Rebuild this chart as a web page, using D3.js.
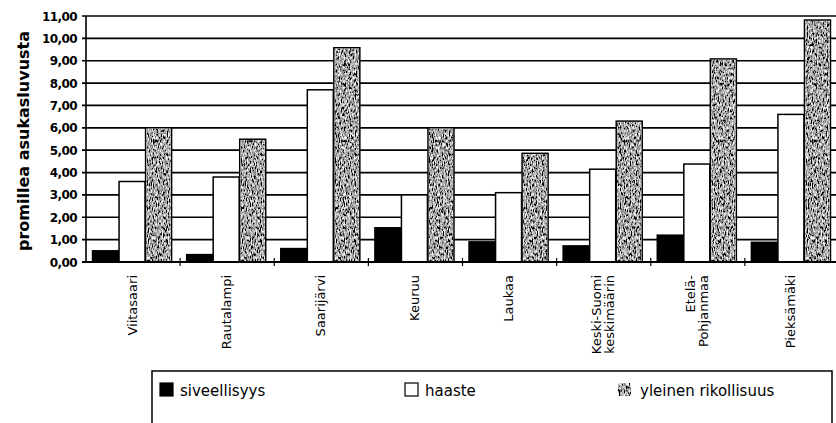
<!DOCTYPE html>
<html>
<head>
<meta charset="utf-8">
<script src="https://cdn.jsdelivr.net/npm/d3@7"></script>
<style>
  body { margin: 0; background: #fff; }
  svg { display: block; }
</style>
</head>
<body>
<div class="chart"></div>
<script>
// data
const categories = ["Viitasaari", "Rautalampi", "Saarijärvi", "Keuruu", "Laukaa",
                    "Keski-Suomi keskimäärin", "Etelä- Pohjanmaa", "Pieksämäki"];
const labelLines = [["Viitasaari"], ["Rautalampi"], ["Saarijärvi"], ["Keuruu"], ["Laukaa"],
                    ["Keski-Suomi", "keskimäärin"], ["Etelä-", "Pohjanmaa"], ["Pieksämäki"]];
const seriesNames = ["siveellisyys", "haaste", "yleinen rikollisuus"];
const siveellisyys = [0.50, 0.33, 0.60, 1.53, 0.90, 0.72, 1.20, 0.88];
const haaste       = [3.60, 3.80, 7.70, 3.00, 3.10, 4.15, 4.38, 6.60];
const yleinen      = [6.00, 5.49, 9.58, 6.00, 4.86, 6.30, 9.08, 10.82];
const yTicks = [0, 1, 2, 3, 4, 5, 6, 7, 8, 9, 10, 11];

const seriesValues = [siveellisyys, haaste, yleinen];
const rows = categories.map((c, i) => ({
    cat: c,
    vals: seriesNames.map((s, j) => ({ key: s, value: seriesValues[j][i] }))
}));

const svg = d3.select(".chart")
    .append("svg")
    .attr("width", 836)
    .attr("height", 423);

// grainy grey fill for the third series
const defs = svg.append("defs");
const grain = defs.append("filter")
    .attr("id", "grain")
    .attr("x", 0).attr("y", 0).attr("width", 1).attr("height", 1)
    .attr("filterUnits", "objectBoundingBox");
grain.append("feTurbulence")
    .attr("type", "fractalNoise")
    .attr("baseFrequency", "0.8 0.3")
    .attr("numOctaves", 3)
    .attr("seed", 7)
    .attr("result", "noise");
grain.append("feColorMatrix")
    .attr("in", "noise")
    .attr("type", "matrix")
    .attr("values", "0.33 0.33 0.33 0 0  0.33 0.33 0.33 0 0  0.33 0.33 0.33 0 0  0 0 0 0 1")
    .attr("result", "gray");
const ct = grain.append("feComponentTransfer").attr("in", "gray").attr("result", "contrast");
["feFuncR", "feFuncG", "feFuncB"].forEach(f =>
    ct.append(f).attr("type", "linear").attr("slope", 4.5).attr("intercept", -1.85));
grain.append("feComposite")
    .attr("in", "contrast")
    .attr("in2", "SourceGraphic")
    .attr("operator", "in");

const x0 = d3.scaleBand()
    .domain(categories)
    .range([86, 839])
    .paddingInner(0);

const x1 = d3.scaleBand()
    .domain(seriesNames)
    .range([6, x0.bandwidth() - 8])
    .padding(0.02);

const y = d3.scaleLinear()
    .domain([0, 11])
    .range([262, 16]);

const fmt = v => d3.format(".2f")(v).replace(".", ",");

// gridlines
svg.append("g")
    .selectAll("line")
    .data(yTicks)
    .join("line")
        .attr("x1", 82)
        .attr("x2", 839)
        .attr("y1", d => y(d))
        .attr("y2", d => y(d))
        .attr("stroke", "black")
        .attr("stroke-width", 1.7);

// y axis line
svg.append("line")
    .attr("x1", 86).attr("x2", 86)
    .attr("y1", y(11)).attr("y2", y(0))
    .attr("stroke", "black")
    .attr("stroke-width", 1.6);

// y tick labels
svg.append("g")
    .selectAll("text")
    .data(yTicks)
    .join("text")
        .text(d => fmt(d))
        .attr("x", 77)
        .attr("y", d => y(d) + 4.5)
        .attr("text-anchor", "end")
        .attr("font-family", "DejaVu Sans, sans-serif")
        .attr("font-weight", "bold")
        .attr("font-size", "12px")
        .attr("letter-spacing", "-0.6px");

// y title
svg.append("text")
    .text("promillea asukasluvusta")
    .attr("transform", "translate(29, 141) rotate(-90)")
    .attr("text-anchor", "middle")
    .attr("font-family", "DejaVu Sans, sans-serif")
    .attr("font-weight", "bold")
    .attr("font-size", "16px");

// bars
const group = svg.append("g")
    .selectAll("g")
    .data(rows)
    .join("g")
        .attr("transform", d => `translate(${x0(d.cat)}, 0)`);

group.selectAll("rect.bar")
    .data(d => d.vals)
    .join("rect")
        .attr("class", "bar")
        .attr("x", d => x1(d.key))
        .attr("y", d => y(d.value))
        .attr("width", x1.bandwidth())
        .attr("height", d => y(0) - y(d.value))
        .attr("fill", d => d.key === "siveellisyys" ? "black" : "white")
        .attr("stroke", "black")
        .attr("stroke-width", 1.5);

group.selectAll("rect.tex")
    .data(d => d.vals.filter(v => v.key === "yleinen rikollisuus"))
    .join("rect")
        .attr("class", "tex")
        .attr("x", d => x1(d.key) + 1)
        .attr("y", d => y(d.value) + 1)
        .attr("width", x1.bandwidth() - 2)
        .attr("height", d => y(0) - y(d.value) - 2)
        .attr("fill", "#777")
        .attr("filter", "url(#grain)");

// baseline with + ticks
svg.append("line")
    .attr("x1", 82).attr("x2", 839)
    .attr("y1", y(0)).attr("y2", y(0))
    .attr("stroke", "black")
    .attr("stroke-width", 1.8);

svg.append("g")
    .selectAll("line")
    .data(categories.slice(1))
    .join("line")
        .attr("x1", d => x0(d))
        .attr("x2", d => x0(d))
        .attr("y1", y(0) - 4)
        .attr("y2", y(0) + 4)
        .attr("stroke", "black")
        .attr("stroke-width", 1.2);

// category labels
const labels = svg.append("g")
    .selectAll("text")
    .data(categories)
    .join("text")
        .attr("transform", d => `translate(${x0(d) + x0.bandwidth() / 2 - 1}, 275) rotate(-90)`)
        .attr("text-anchor", "end")
        .attr("font-family", "DejaVu Sans, sans-serif")
        .attr("font-size", "13px");

labels.selectAll("tspan")
    .data((d, i) => labelLines[i].map((t, k, arr) => ({ t, k, n: arr.length })))
    .join("tspan")
        .attr("x", 0)
        .attr("y", d => 4.5 + (d.k - (d.n - 1) / 2) * 13)
        .text(d => d.t);

// legend
const legend = svg.append("g");
legend.append("rect")
    .attr("x", 152).attr("y", 371)
    .attr("width", 680).attr("height", 80)
    .attr("fill", "none")
    .attr("stroke", "black")
    .attr("stroke-width", 1.5);

const legendX = [160, 405, 618];
const item = legend.selectAll("g.item")
    .data(seriesNames)
    .join("g")
        .attr("class", "item")
        .attr("transform", (d, i) => `translate(${legendX[i]}, 383)`);

item.append("rect")
    .attr("width", 13).attr("height", 13)
    .attr("fill", d => d === "siveellisyys" ? "black" : (d === "haaste" ? "white" : "#777"))
    .attr("stroke", "black")
    .attr("stroke-width", 1.2)
    .attr("filter", d => d === "yleinen rikollisuus" ? "url(#grain)" : null);

item.append("text")
    .text(d => d)
    .attr("x", d => d === "yleinen rikollisuus" ? 22 : 20)
    .attr("y", 12.5)
    .attr("font-family", "DejaVu Sans, sans-serif")
    .attr("font-size", "15px");
</script>
</body>
</html>
